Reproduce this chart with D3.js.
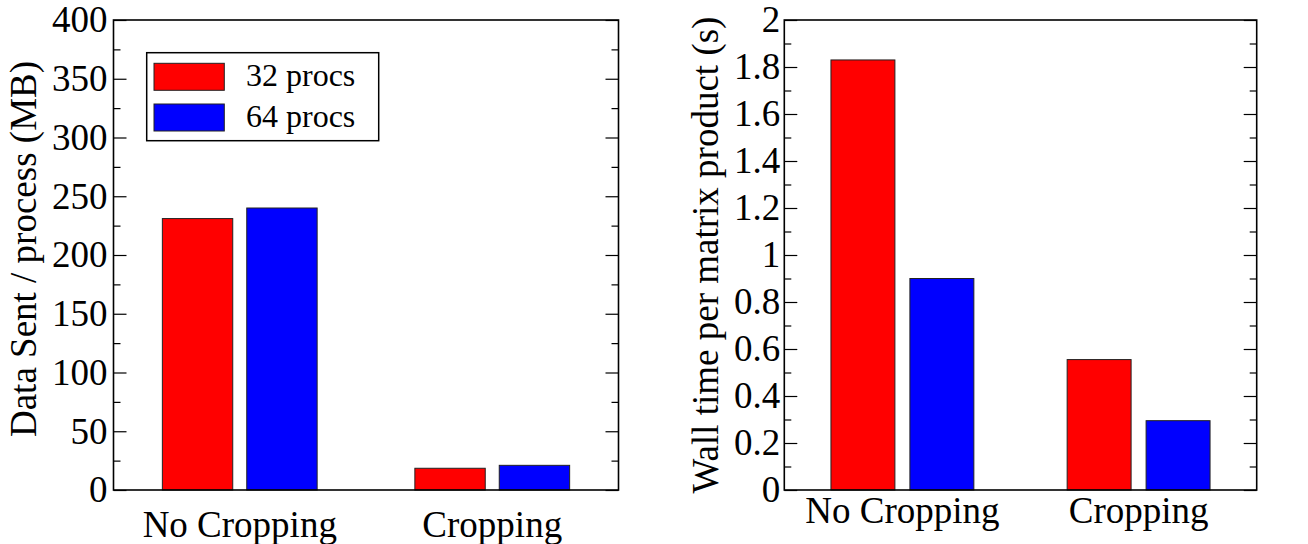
<!DOCTYPE html>
<html>
<head>
<meta charset="utf-8">
<script src="https://cdn.jsdelivr.net/npm/d3@7"></script>
<style>
  html, body { margin: 0; padding: 0; background: #fff; }
  svg { display: block; }
</style>
</head>
<body>
<svg id="chart" width="1308" height="544"></svg>
<script>
// ---- data ----
const categories = ["No Cropping", "Cropping"];
const seriesNames = ["32 procs", "64 procs"];
const seriesColors = ["#ff0000", "#0000ff"];
const dataSent32 = [231, 18.5];
const dataSent64 = [240, 21];
const wallTime32 = [1.83, 0.555];
const wallTime64 = [0.9, 0.295];
const dataSentTicks = [0, 50, 100, 150, 200, 250, 300, 350, 400];
const wallTimeTicks = [0, 0.2, 0.4, 0.6, 0.8, 1, 1.2, 1.4, 1.6, 1.8, 2];

const svg = d3.select("#chart");
const FF = "Liberation Serif";
const FONT = 37;
const LEG_FONT = 32;

function setFont(sel, size) {
  sel.attr("font-family", FF).attr("font-size", size).attr("fill", "#000");
  return sel;
}

function panel(opts) {
  const { left, top, width, height, yMax, majorTicks, minorStep, values, yLabel,
          yLabelX, yLabelY, xLabelDy, outerPad, innerPad, tickFmt, tickPad } = opts;
  const g = svg.append("g").attr("transform", `translate(${left},${top})`);

  const x0 = d3.scaleBand().domain(categories).range([0, width])
    .paddingInner(outerPad).paddingOuter(outerPad / 2);
  const x1 = d3.scaleBand().domain(seriesNames).range([0, x0.bandwidth()])
    .paddingInner(innerPad).paddingOuter(0);
  const y = d3.scaleLinear().domain([0, yMax]).range([height, 0]);

  // bars
  const rows = categories.map((c, i) => ({ cat: c, vals: seriesNames.map((s, j) => ({ s, j, v: values[j][i] })) }));
  const grp = g.selectAll("g.cat").data(rows).join("g")
    .attr("transform", d => `translate(${x0(d.cat)},0)`);
  grp.selectAll("rect").data(d => d.vals).join("rect")
    .attr("x", d => x1(d.s))
    .attr("y", d => y(d.v))
    .attr("width", x1.bandwidth())
    .attr("height", d => height - y(d.v))
    .attr("fill", d => seriesColors[d.j])
    .attr("stroke", "#222")
    .attr("stroke-width", 1);

  // ticks (inward, both sides; major + minor)
  const minor = d3.range(0, yMax + 1e-9, minorStep).filter(v => !majorTicks.some(m => Math.abs(m - v) < 1e-9));
  const axL = d3.axisLeft(y).tickValues(majorTicks).tickSizeInner(-13).tickSizeOuter(0).tickPadding(tickPad).tickFormat(tickFmt);
  const axLm = d3.axisLeft(y).tickValues(minor).tickSizeInner(-7).tickSizeOuter(0).tickFormat("");
  const axR = d3.axisRight(y).tickValues(majorTicks).tickSizeInner(-13).tickSizeOuter(0).tickFormat("");
  const axRm = d3.axisRight(y).tickValues(minor).tickSizeInner(-7).tickSizeOuter(0).tickFormat("");

  [[axL, 0], [axLm, 0], [axR, width], [axRm, width]].forEach(([ax, tx]) => {
    const a = g.append("g").attr("transform", `translate(${tx},0)`).call(ax);
    a.attr("font-family", FF).attr("font-size", FONT);
    a.select(".domain").remove();
    a.selectAll("line").attr("stroke", "#000").attr("stroke-width", 1.2);
    setFont(a.selectAll("text"), FONT);
  });

  // frame
  g.append("rect").attr("x", 0).attr("y", 0).attr("width", width).attr("height", height)
    .attr("fill", "none").attr("stroke", "#000").attr("stroke-width", 1.6);

  // x labels
  setFont(g.selectAll("text.xl").data(categories).join("text").attr("class", "xl")
    .attr("x", d => x0(d) + x0.bandwidth() / 2)
    .attr("y", height + xLabelDy)
    .attr("text-anchor", "middle")
    .text(d => d), FONT);

  // y label
  setFont(svg.append("text")
    .attr("transform", `translate(${yLabelX},${yLabelY}) rotate(-90)`)
    .attr("text-anchor", "middle")
    .text(yLabel), FONT);
  return g;
}

panel({
  left: 113.5, top: 20, width: 505, height: 470, yMax: 400,
  majorTicks: dataSentTicks, minorStep: 25,
  values: [dataSent32, dataSent64], yLabel: "Data Sent / process (MB)",
  yLabelX: 36, yLabelY: 249, xLabelDy: 46.7, outerPad: 0.387, innerPad: 0.166,
  tickFmt: d3.format("d"), tickPad: 6
});

panel({
  left: 784.3, top: 20, width: 472.4, height: 470, yMax: 2,
  majorTicks: wallTimeTicks, minorStep: 0.1,
  values: [wallTime32, wallTime64], yLabel: "Wall time per matrix product (s)",
  yLabelX: 718, yLabelY: 255, xLabelDy: 33.3, outerPad: 0.395, innerPad: 0.19,
  tickFmt: d => d3.format("~g")(d), tickPad: 4
});

// legend
const lg = svg.append("g").attr("transform", "translate(146.7,52.7)");
lg.append("rect").attr("width", 232).attr("height", 88)
  .attr("fill", "#fff").attr("stroke", "#000").attr("stroke-width", 1.5);
seriesNames.forEach((s, i) => {
  lg.append("rect").attr("x", 7.3).attr("y", 10.6 + i * 40.7)
    .attr("width", 70.3).attr("height", 27)
    .attr("fill", seriesColors[i]).attr("stroke", "#222").attr("stroke-width", 1);
  setFont(lg.append("text").attr("x", 99.3).attr("y", 33 + i * 41.6).text(s), LEG_FONT);
});
</script>
</body>
</html>
